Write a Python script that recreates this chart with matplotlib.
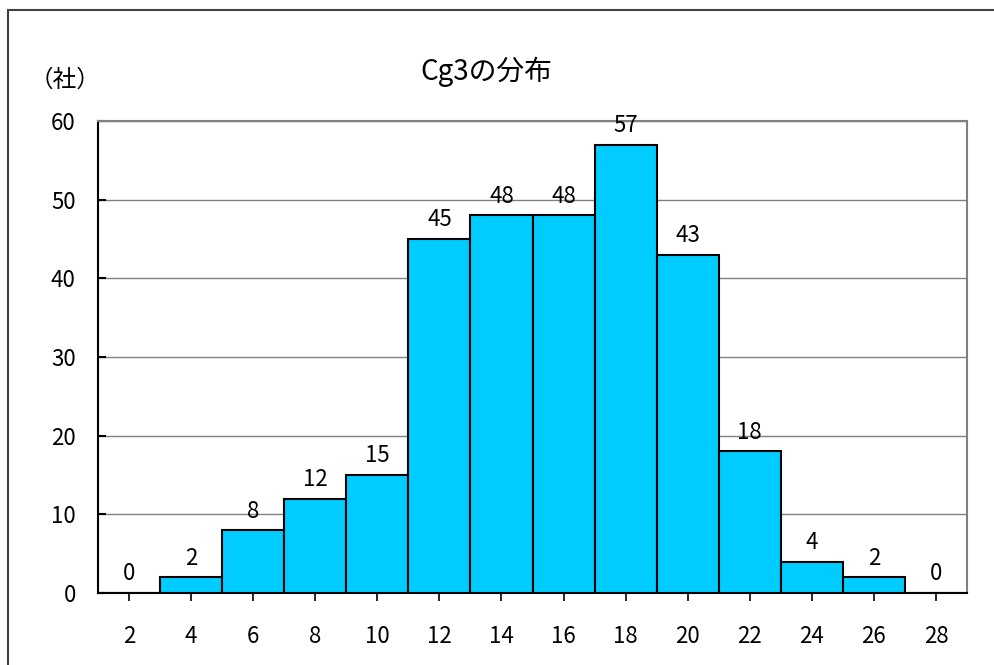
import numpy as np
import matplotlib.pyplot as plt
from matplotlib.patches import Rectangle

plt.rcParams['font.family'] = ['Noto Sans CJK JP', 'DejaVu Sans']

categories = ['2', '4', '6', '8', '10', '12', '14', '16', '18', '20', '22', '24', '26', '28']
counts = [0, 2, 8, 12, 15, 45, 48, 48, 57, 43, 18, 4, 2, 0]

fig = plt.figure(figsize=(9.94, 6.65), dpi=100)
# outer chart border
fig.patches.append(Rectangle((8 / 994, -0.1), 1.2, 1 - 10 / 665 + 0.1,
                             transform=fig.transFigure, fill=False,
                             edgecolor='#404040', linewidth=1.5))

ax = fig.add_axes([98 / 994, 1 - 593 / 665, (967 - 98) / 994, (593 - 121) / 665])
x = np.arange(len(categories))
ax.bar(x, counts, width=1.0, color='#00CCFF', edgecolor='black', linewidth=1.5, zorder=3)
for xi, v in zip(x, counts):
    ax.annotate(str(v), (xi, v), xytext=(0, 9), textcoords='offset points',
                ha='center', va='baseline', fontsize=16)

ax.set_xlim(-0.5, len(categories) - 0.5)
ax.set_ylim(0, 60)
ax.set_yticks(range(0, 61, 10))
ax.set_xticks(x)
ax.set_xticklabels(categories)
ax.yaxis.grid(True, color='#808080', linewidth=1)
ax.set_axisbelow(True)
ax.tick_params(axis='y', direction='in', length=6, width=1.5, labelsize=16, pad=16)
ax.tick_params(axis='x', direction='out', length=6, width=1.2, labelsize=16, pad=17)
for s in ['top', 'right']:
    ax.spines[s].set_color('#808080')
    ax.spines[s].set_linewidth(1.5)
for s in ['left', 'bottom']:
    ax.spines[s].set_color('black')
    ax.spines[s].set_linewidth(1.5)

fig.text(486 / 994, 1 - 72 / 665, 'Cg3の分布', ha='center', va='center', fontsize=20)
fig.text(65 / 994, 1 - 80 / 665, '（社）', ha='center', va='center', fontsize=17)

fig.savefig('out.png', dpi=100)
